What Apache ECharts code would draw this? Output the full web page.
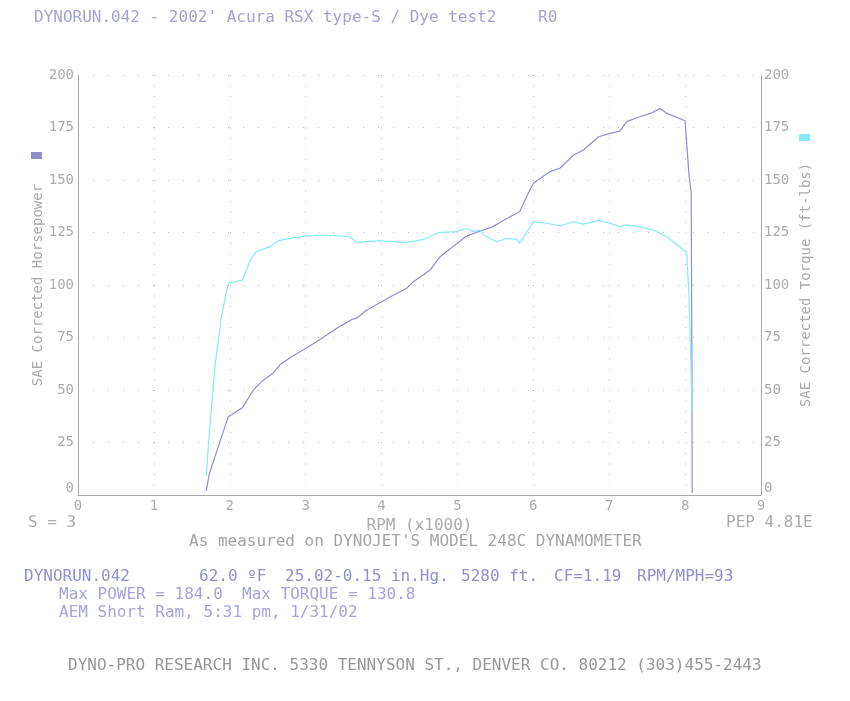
<!DOCTYPE html>
<html>
<head>
<meta charset="utf-8">
<script src="https://cdn.jsdelivr.net/npm/echarts@6/dist/echarts.min.js"></script>
<style>
  html, body { margin: 0; background: #fff; }
  #chart { width: 850px; height: 701px; }
</style>
</head>
<body>
<div id="chart"></div>
<script>
// rpm in thousands
const powerRpm = [1.69, 1.73, 1.83, 1.98, 2.17, 2.31, 2.42, 2.57, 2.66, 2.82, 3.01, 3.19, 3.41, 3.61, 3.67, 3.80, 4.02, 4.16, 4.33, 4.42, 4.64, 4.77, 4.84, 4.95, 5.12, 5.30, 5.47, 5.65, 5.82, 5.91, 6.00, 6.22, 6.35, 6.53, 6.66, 6.86, 7.01, 7.14, 7.23, 7.40, 7.54, 7.67, 7.76, 8.00, 8.02, 8.05, 8.08, 8.09, 8.093];
const powerHp = [2, 10, 21, 37.3, 41.7, 50, 54, 58, 62, 66, 70, 74, 79.4, 83.6, 84.1, 88, 92.4, 95.2, 98.4, 101.6, 107.1, 113.5, 115.4, 118.5, 123.3, 125.7, 127.8, 131.7, 134.9, 142, 148.4, 154, 155.6, 161.9, 164.3, 170.6, 172.2, 173.3, 177.8, 180.1, 181.7, 184.0, 181.7, 178.2, 178.5, 153, 143.8, 60, 1];

const torqueRpm = [1.69, 1.73, 1.805, 1.89, 1.98, 2.17, 2.27, 2.35, 2.53, 2.64, 2.79, 2.99, 3.23, 3.58, 3.67, 3.98, 4.33, 4.55, 4.75, 4.99, 5.12, 5.21, 5.30, 5.34, 5.52, 5.65, 5.78, 5.82, 6.00, 6.18, 6.35, 6.53, 6.66, 6.86, 7.01, 7.14, 7.23, 7.40, 7.58, 7.76, 7.98, 8.02, 8.05, 8.07, 8.093];
const torqueFtLb = [9, 29.3, 61.1, 84.9, 100.8, 102.4, 111.9, 115.9, 118.3, 121.1, 122.2, 123.3, 123.8, 123, 120.3, 121.1, 120.2, 121.7, 124.9, 125.4, 127, 125.4, 126.2, 123.8, 120.6, 122.2, 121.7, 119.8, 130.1, 129.4, 128.1, 130.1, 129, 130.8, 129.4, 127.8, 128.6, 127.8, 126.2, 123, 116.7, 115.9, 96, 72, 39];

const rpmMin = 0, rpmMax = 9, rpmStep = 1;
const valMin = 0, valMax = 200, valStep = 25;

const infoLine = [
  [24, 'DYNORUN.042'],
  [199, '62.0 ºF'],
  [285, '25.02-0.15 in.Hg.'],
  [461, '5280 ft.'],
  [554, 'CF=1.19'],
  [637, 'RPM/MPH=93']
];

const mono = '"DejaVu Sans Mono", "Liberation Mono", monospace';
const gray = '#ababab';
const powerColor = '#8c8ecc';
const torqueColor = '#86e8f8';

const chart = echarts.init(document.getElementById('chart'));

function txt(x, y, text, color, size) {
  return {
    type: 'text', x: x, y: y, silent: true,
    style: { text: text, fill: color, font: (size || 16) + 'px ' + mono, verticalAlign: 'middle' }
  };
}

const graphics = [
  txt(34, 18, "DYNORUN.042 - 2002' Acura RSX type-S / Dye test2", '#a2a2d2'),
  txt(538, 18, 'R0', '#a2a2d2'),
  txt(28, 523, 'S = 3', gray),
  txt(726, 523, 'PEP 4.81E', gray),
  txt(189, 542, "As measured on DYNOJET'S MODEL 248C DYNAMOMETER", '#a4a4a4'),
  txt(59, 595, 'Max POWER = 184.0  Max TORQUE = 130.8', '#a4a4dc'),
  txt(59, 613, 'AEM Short Ram, 5:31 pm, 1/31/02', '#a4a4dc'),
  txt(68, 666, 'DYNO-PRO RESEARCH INC. 5330 TENNYSON ST., DENVER CO. 80212 (303)455-2443', '#969696')
].concat(infoLine.map(p => txt(p[0], 577, p[1], '#9090cc')));

const yAxisBase = {
  type: 'value',
  min: valMin, max: valMax, interval: valStep,
  nameLocation: 'middle',
  nameMoveOverlap: false,
  nameTextStyle: { color: gray, fontFamily: mono, fontSize: 14 },
  axisLine: { show: true, lineStyle: { color: '#a8a8a8', width: 1 } },
  axisTick: { show: false },
  axisLabel: { color: gray, fontFamily: mono, fontSize: 14, verticalAlignMinLabel: 'bottom' }
};

const option = {
  animation: false,
  backgroundColor: '#fff',
  grid: { left: 78, right: 89, top: 75, bottom: 206 },
  legend: [
    { data: ['Power'], left: 31, top: 152, icon: 'rect', itemWidth: 11, itemHeight: 7, itemGap: 0, padding: 0, formatter: () => '', selectedMode: false },
    { data: ['Torque'], left: 799, top: 134, icon: 'rect', itemWidth: 11, itemHeight: 7, itemGap: 0, padding: 0, formatter: () => '', selectedMode: false }
  ],
  xAxis: {
    type: 'value',
    min: rpmMin, max: rpmMax, interval: rpmStep,
    name: 'RPM (x1000)',
    nameLocation: 'middle',
    nameGap: 21,
    nameTextStyle: { color: gray, fontFamily: mono, fontSize: 16 },
    axisLine: { lineStyle: { color: '#a8a8a8', width: 1 } },
    axisTick: { show: false },
    axisLabel: { color: gray, fontFamily: mono, fontSize: 14, margin: 4 },
    splitLine: { show: true, lineStyle: { color: '#b8b8b8', width: 1, type: [1, 9.5] } }
  },
  yAxis: [
    Object.assign({}, yAxisBase, {
      position: 'left',
      name: 'SAE Corrected Horsepower',
      nameGap: 33,
      axisLabel: Object.assign({}, yAxisBase.axisLabel, { margin: 4 }),
      splitLine: { show: true, lineStyle: { color: '#b8b8b8', width: 1, type: [1, 14] } }
    }),
    Object.assign({}, yAxisBase, {
      position: 'right',
      name: 'SAE Corrected Torque (ft-lbs)',
      nameGap: 38,
      axisLabel: Object.assign({}, yAxisBase.axisLabel, { margin: 3 }),
      splitLine: { show: false }
    })
  ],
  series: [
    {
      name: 'Power', type: 'line', yAxisIndex: 0,
      data: powerRpm.map((r, i) => [r, powerHp[i]]),
      showSymbol: false, symbol: 'none',
      itemStyle: { color: powerColor },
      lineStyle: { color: powerColor, width: 1.2 }
    },
    {
      name: 'Torque', type: 'line', yAxisIndex: 1,
      data: torqueRpm.map((r, i) => [r, torqueFtLb[i]]),
      showSymbol: false, symbol: 'none',
      itemStyle: { color: torqueColor },
      lineStyle: { color: torqueColor, width: 1.2 }
    }
  ],
  graphic: graphics
};

chart.setOption(option);
</script>
</body>
</html>
